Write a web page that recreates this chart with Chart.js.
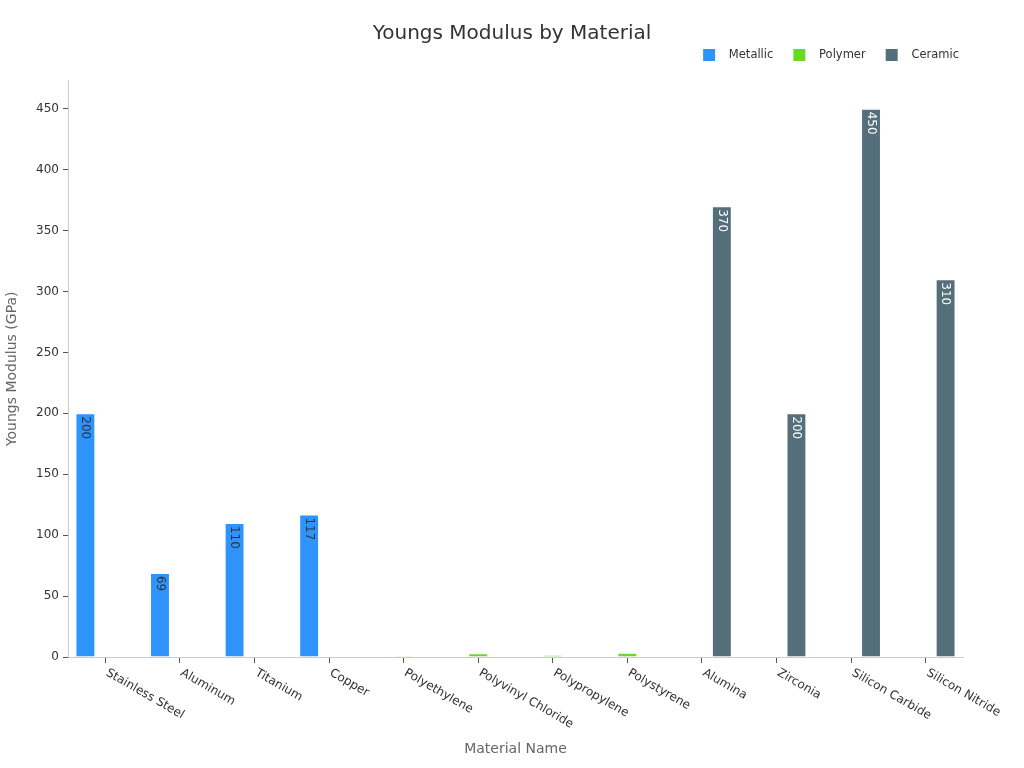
<!doctype html>
<html lang="en">
<head>
<meta charset="utf-8">
<title>Youngs Modulus by Material</title>
<script src="https://cdn.jsdelivr.net/npm/chart.js@4.4.1/dist/chart.umd.min.js"></script>
<style>
  html, body { margin: 0; padding: 0; background: #fff; }
  #wrap { width: 1024px; height: 768px; }
</style>
</head>
<body>
<div id="wrap"><canvas id="youngsChart"></canvas></div>
<script>
// data
const materials = ['Stainless Steel', 'Aluminum', 'Titanium', 'Copper', 'Polyethylene', 'Polyvinyl Chloride',
  'Polypropylene', 'Polystyrene', 'Alumina', 'Zirconia', 'Silicon Carbide', 'Silicon Nitride'];
const metallicValues = [200, 69, 110, 117, null, null, null, null, null, null, null, null];
const polymerValues  = [null, null, null, null, 0.8, 3, 1.5, 3.5, null, null, null, null];
const ceramicValues  = [null, null, null, null, null, null, null, null, 370, 200, 450, 310];
const yTicks = [0, 50, 100, 150, 200, 250, 300, 350, 400, 450];

const FONT = '"DejaVu Sans", sans-serif';
Chart.defaults.font.family = FONT;

// legend marker: square sitting at the right part of a wider transparent image
function legendMark(color) {
  const c = document.createElement('canvas');
  c.width = 36; c.height = 12;
  const g = c.getContext('2d');
  g.fillStyle = color;
  g.fillRect(16, 0, 12, 12);
  return c;
}

// rotated value labels inside the bars
const barLabels = {
  id: 'barLabels',
  afterDatasetsDraw(chart) {
    const ctx = chart.ctx;
    chart.data.datasets.forEach((ds, di) => {
      const meta = chart.getDatasetMeta(di);
      meta.data.forEach((bar, i) => {
        const v = ds.data[i];
        if (v == null) return;
        const p = bar.getProps(['x', 'y', 'base', 'width'], true);
        ctx.save();
        ctx.beginPath();
        ctx.rect(p.x - p.width / 2, p.y, p.width, p.base - p.y);
        ctx.clip();
        ctx.translate(p.x, p.y + 3);
        ctx.rotate(Math.PI / 2);
        ctx.font = '12px ' + FONT;
        ctx.fillStyle = ds.labelColor;
        ctx.textAlign = 'left';
        ctx.textBaseline = 'middle';
        ctx.fillText(String(v), 0, 0);
        ctx.restore();
      });
    });
  }
};

// slanted category labels, starting at the tick and running down-right
const slantLabels = {
  id: 'slantLabels',
  afterDraw(chart) {
    const ctx = chart.ctx;
    const xs = chart.scales.x;
    ctx.save();
    ctx.font = '12px ' + FONT;
    ctx.fillStyle = '#333';
    ctx.textAlign = 'left';
    ctx.textBaseline = 'middle';
    materials.forEach((m, i) => {
      const x = xs.getPixelForTick(i);
      ctx.save();
      ctx.translate(x + 5, xs.top + 17);
      ctx.rotate(30 * Math.PI / 180);
      ctx.fillText(m, -4, 0);
      ctx.restore();
    });
    ctx.restore();
  }
};

const barOpts = { borderColor: 'rgba(255,255,255,0.45)', borderWidth: 1, categoryPercentage: 0.8, barPercentage: 1.0 };

new Chart(document.getElementById('youngsChart'), {
  type: 'bar',
  data: {
    labels: materials,
    datasets: [
      Object.assign({ label: 'Metallic', data: metallicValues, backgroundColor: '#2E93FA',
        pointStyle: legendMark('#2E93FA'), labelColor: '#333' }, barOpts),
      Object.assign({ label: 'Polymer', data: polymerValues, backgroundColor: '#66DA26',
        pointStyle: legendMark('#66DA26'), labelColor: '#333' }, barOpts),
      Object.assign({ label: 'Ceramic', data: ceramicValues, backgroundColor: '#546E7A',
        pointStyle: legendMark('#546E7A'), labelColor: '#fff' }, barOpts)
    ]
  },
  options: {
    responsive: true,
    maintainAspectRatio: false,
    animation: false,
    layout: { padding: 0 },
    plugins: {
      title: {
        display: true, text: 'Youngs Modulus by Material', color: '#333',
        font: { size: 20, weight: 'normal' }, padding: { top: 22, bottom: -1 }
      },
      legend: {
        position: 'top', align: 'end', fullSize: false,
        labels: { usePointStyle: true, pointStyleWidth: 36, boxHeight: 12, padding: 4, color: '#333', font: { size: 11.5 } }
      },
      subtitle: {
        // spacer under the legend
        display: true, text: '', weight: 500, font: { size: 1 }, padding: { top: 9, bottom: 0 }
      },
      tooltip: { enabled: false }
    },
    scales: {
      x: {
        offset: true,
        grid: { display: true, drawOnChartArea: false, offset: false, drawTicks: true, tickLength: 6, color: '#555' },
        border: { display: true, color: '#ccc' },
        ticks: { display: false },
        title: { display: true, text: 'Material Name', color: '#666', font: { size: 14 }, padding: { top: 0, bottom: 10 } },
        afterFit(s) { s.height = 111; }
      },
      y: {
        min: 0, max: 473,
        afterBuildTicks(s) { s.ticks = yTicks.map(v => ({ value: v })); },
        grid: { drawOnChartArea: false, drawTicks: true, tickLength: 5, color: '#555' },
        border: { display: true, color: '#ccc' },
        ticks: { color: '#333', font: { size: 12 }, padding: 4 },
        title: { display: true, text: 'Youngs Modulus (GPa)', color: '#666', font: { size: 14 }, padding: { top: 4, bottom: 0 } },
        afterFit(s) { s.width = 68; }
      },
      yRight: {
        type: 'linear', position: 'right', display: true,
        grid: { display: false }, border: { display: false }, ticks: { display: false },
        afterFit(s) { s.width = 61; }
      }
    }
  },
  plugins: [barLabels, slantLabels]
});
</script>
</body>
</html>
